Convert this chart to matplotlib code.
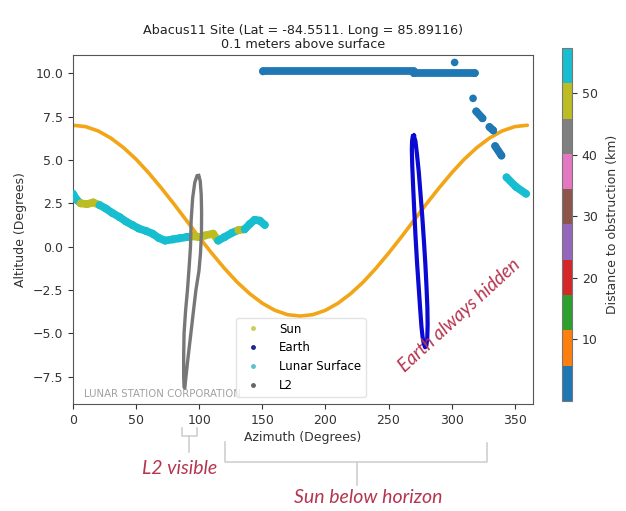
import numpy as np
import matplotlib
matplotlib.use("Agg")
import matplotlib.pyplot as plt
from matplotlib.collections import LineCollection
from matplotlib.colors import Normalize
from matplotlib.lines import Line2D

# ---- Sun track (azimuth, altitude in degrees) ----
sun_az = [0, 10, 20, 30, 40, 50, 60, 70, 80, 90, 100, 110, 120, 130, 140, 150, 160, 170, 180,
          190, 200, 210, 220, 230, 240, 250, 260, 270, 280, 290, 300, 310, 320, 330, 340, 350, 360]
sun_alt = [7.0, 6.92, 6.67, 6.26, 5.71, 5.04, 4.25, 3.38, 2.46, 1.5, 0.54, -0.38, -1.25,
           -2.04, -2.71, -3.26, -3.67, -3.92, -4.0,
           -3.92, -3.67, -3.26, -2.71, -2.04, -1.25, -0.38, 0.54, 1.5, 2.46, 3.38, 4.25,
           5.04, 5.71, 6.26, 6.67, 6.92, 7.0]

# ---- Earth track (closed loop) ----
earth_az = [270.0, 271.3, 272.6, 274.0, 275.3, 276.7, 278.0, 279.2, 280.1, 280.8, 281.0,
            280.7, 280.0, 279.0, 278.0, 277.0, 276.1, 275.1, 273.9, 272.6, 271.4, 270.4,
            269.5, 268.8, 268.5, 268.7, 269.2, 270.0]
earth_alt = [6.4, 6.1, 5.3, 4.3, 3.1, 1.8, 0.4, -1.0, -2.3, -3.5, -4.5,
             -5.3, -5.7, -5.8, -5.6, -5.2, -4.6, -3.6, -2.3, -0.9, 0.6, 2.1,
             3.5, 4.7, 5.6, 6.1, 6.35, 6.4]

# ---- L2 track (closed loop) ----
l2_az = [99.5, 100.8, 101.6, 101.9, 101.8, 101.0, 99.8, 97.4, 95.3, 93.4, 91.3, 89.5, 88.6,
         88.0, 87.7, 87.7, 88.0, 89.2, 90.7, 92.0, 93.1, 93.6, 94.8, 96.5, 98.3, 99.5]
l2_alt = [4.1, 3.8, 3.0, 2.0, 0.8, -0.4, -1.4, -2.5, -3.8, -5.0, -6.3, -7.5, -8.15,
          -8.1, -7.5, -6.3, -5.0, -3.7, -2.5, -1.2, 0.0, 1.5, 2.8, 3.7, 4.1, 4.1]

# ---- Lunar surface horizon profile (NaN separates pieces) ----
surf_az = [0, 3, 6, 11, 16, 21, 26, 31, 37, 42, 47, 52, 58, 63, 68, 73, 79, 84, 90,
           95, 100, 105, 111, 115, 120, 126, 131, 136, 140, 144, 148, 152,
           np.nan, 150.5, 270, np.nan, 270, 318.3, np.nan, 302.4,
           np.nan, 317, np.nan, 319.5, 324.5, np.nan, 330, 333,
           np.nan, 334.5, 339.5, np.nan, 343.5, 351, 359]
surf_alt = [3.05, 2.7, 2.5, 2.45, 2.55, 2.4, 2.2, 1.95, 1.7, 1.45, 1.25, 1.05, 0.9, 0.75,
            0.5, 0.35, 0.42, 0.48, 0.55, 0.6, 0.55, 0.65, 0.75, 0.35, 0.55, 0.8, 0.95,
            1.0, 1.3, 1.55, 1.5, 1.25,
            np.nan, 10.1, 10.1, np.nan, 10.0, 10.0, np.nan, 10.62,
            np.nan, 8.55, np.nan, 7.8, 7.4, np.nan, 6.9, 6.7,
            np.nan, 5.8, 5.25, np.nan, 4.0, 3.45, 3.05]
surf_dist = [54, 54, 48, 48, 48, 54, 54, 54, 54, 54, 54, 54, 54, 54, 54, 54, 54, 54, 54,
             48, 48, 48, 48, 54, 54, 54, 48, 54, 54, 54, 54, 54,
             np.nan, 2, 2, np.nan, 2, 2, np.nan, 2,
             np.nan, 2, np.nan, 2, 2, np.nan, 2, 2,
             np.nan, 2, 2, np.nan, 54, 54, 54]

cbar_ticks = [10, 20, 30, 40, 50]
dist_max = 57.3

W, H = 626, 511
fig = plt.figure(figsize=(W / 100, H / 100), dpi=100)
fig.patch.set_facecolor("white")


def fx(x):
    return x / W


def fy(y):
    return 1 - y / H


ax = fig.add_axes([fx(73), fy(404), (533 - 73) / W, (404 - 55) / H])
cax = fig.add_axes([fx(562), fy(401), 10 / W, (401 - 48) / H])

cmap = plt.get_cmap("tab10")
norm = Normalize(0, dist_max)

# Sun
ax.plot(sun_az, sun_alt, color="#f2a516", lw=2.6, solid_capstyle="round",
        solid_joinstyle="round", zorder=2)

# Lunar surface, drawn as thick coloured segments plus dots
saz = np.array(surf_az, float)
salt = np.array(surf_alt, float)
sd = np.array(surf_dist, float)
segs, segc = [], []
for i in range(len(saz) - 1):
    if np.isfinite(saz[i]) and np.isfinite(saz[i + 1]):
        segs.append([(saz[i], salt[i]), (saz[i + 1], salt[i + 1])])
        segc.append(sd[i])
lc = LineCollection(segs, cmap=cmap, norm=norm, linewidths=5.6, capstyle="round", zorder=3)
lc.set_array(np.array(segc))
ax.add_collection(lc)
ok = np.isfinite(saz)
sc = ax.scatter(saz[ok], salt[ok], c=sd[ok], cmap=cmap, norm=norm, s=30,
                linewidths=0, zorder=3)

# Earth and L2 loops
ax.plot(earth_az, earth_alt, color="#0a0ad2", lw=3.0, solid_joinstyle="round", zorder=4)
ax.plot(l2_az, l2_alt, color="#777777", lw=2.4, solid_joinstyle="round", zorder=4)

ax.set_xlim(0, 364.5)
ax.set_ylim(-9.07, 11.05)
ax.set_xticks([0, 50, 100, 150, 200, 250, 300, 350])
ax.set_yticks([-7.5, -5.0, -2.5, 0.0, 2.5, 5.0, 7.5, 10.0])
ax.tick_params(labelsize=9, colors="#333333")
for s in ax.spines.values():
    s.set_color("#555555")
ax.set_xlabel("Azimuth (Degrees)", fontsize=9, color="#333333", labelpad=3)
ax.set_ylabel("Altitude (Degrees)", fontsize=9, color="#333333")
ax.set_title("Abacus11 Site (Lat = -84.5511. Long = 85.89116)\n0.1 meters above surface",
             fontsize=9.2, color="#222222", pad=5, linespacing=1.1)

handles = [
    Line2D([], [], ls="none", marker=".", ms=5, color="#c8cf5a"),
    Line2D([], [], ls="none", marker=".", ms=5, color="#1a2a8c"),
    Line2D([], [], ls="none", marker=".", ms=5, color="#5fbfd0"),
    Line2D([], [], ls="none", marker=".", ms=5, color="#666666"),
]
ax.legend(handles, ["Sun", "Earth", "Lunar Surface", "L2"], loc="lower left",
          bbox_to_anchor=(0.355, 0.02), borderaxespad=0, fontsize=8.5,
          frameon=True, edgecolor="#dddddd", handletextpad=1.2)

ax.text(0.025, 0.013, "LUNAR STATION CORPORATION", transform=ax.transAxes,
        fontsize=7.3, color="#a0a0a0", ha="left", va="bottom", zorder=1)

cb = fig.colorbar(sc, cax=cax, ticks=cbar_ticks)
cb.outline.set_edgecolor("#777777")
cb.ax.tick_params(labelsize=9, colors="#333333")
cb.set_label("Distance to obstruction (km)", fontsize=9, color="#333333", labelpad=6)

# Annotations below the chart
red = "#b5354f"
afont = dict(family=["Lato", "DejaVu Sans"], style="italic", color=red)
fig.text(fx(459), fy(315), "Earth always hidden", rotation=42.5, ha="center", va="center",
         fontsize=13.5, **afont)
fig.text(fx(180), fy(468), "L2 visible", ha="center", va="center", fontsize=14, **afont)
fig.text(fx(368), fy(497), "Sun below horizon", ha="center", va="center", fontsize=14, **afont)

bc = "#cfcfcf"
for xs, ys in [
    ([182, 182, 197, 197], [428, 436, 436, 428]),
    ([189, 189], [436, 452]),
    ([225, 225, 487, 487], [442, 462, 462, 443]),
    ([357, 357], [462, 485]),
]:
    fig.add_artist(Line2D([fx(v) for v in xs], [fy(v) for v in ys], color=bc, lw=1.2))

fig.savefig("out.png", dpi=100, facecolor="white")
